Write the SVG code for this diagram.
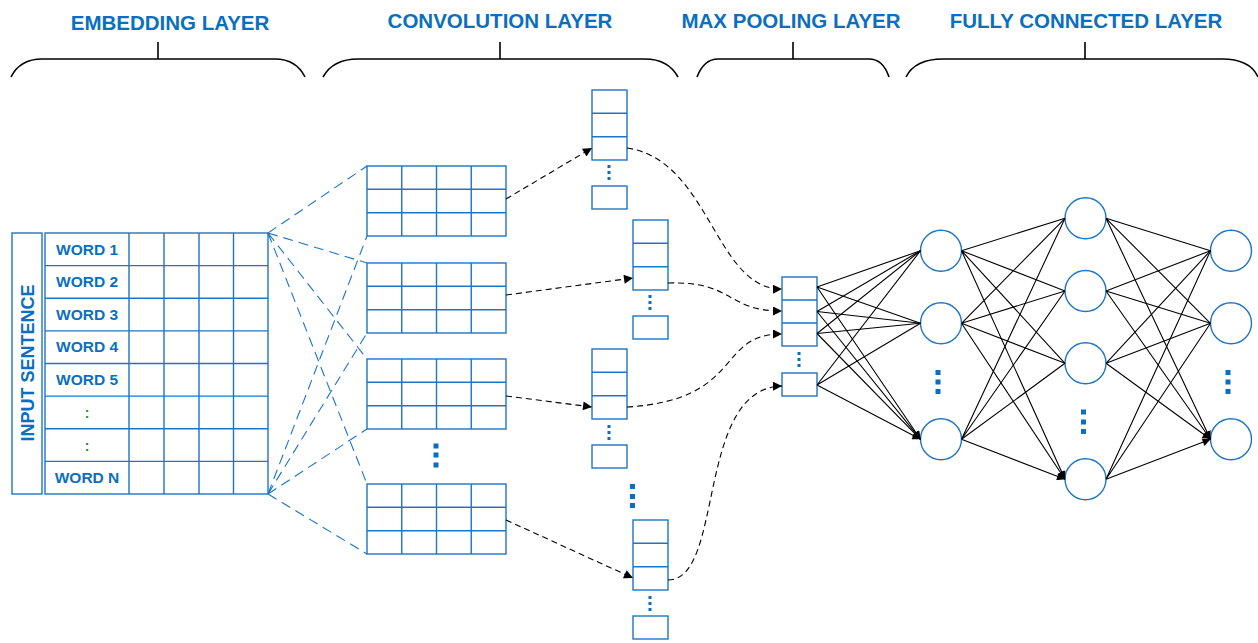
<svg xmlns="http://www.w3.org/2000/svg" width="1258" height="643" viewBox="0 0 1258 643">
<style>
.hdr{font-family:"Liberation Sans",Arial,sans-serif;font-weight:bold;font-size:20.5px;fill:#0A6FC0;text-anchor:middle}
.brace{fill:none;stroke:#000;stroke-width:1.6}
.cell{fill:#fff;stroke:#1C75C6;stroke-width:1.4}
.gl{fill:none;stroke:#1C75C6;stroke-width:1.4}
.word{font-family:"Liberation Sans",Arial,sans-serif;font-weight:bold;font-size:15.5px;fill:#0A6FC0;text-anchor:middle}
.colon{font-family:"Liberation Sans",Arial,sans-serif;font-weight:bold;font-size:14px;fill:#2E8B2E;text-anchor:middle}
.bdash{fill:none;stroke:#1C75C6;stroke-width:1.1;stroke-dasharray:10 6}
.kdash{fill:none;stroke:#000;stroke-width:1.1;stroke-dasharray:6 4}
.fc{fill:none;stroke:#000;stroke-width:1.1}
.node{fill:#fff;stroke:#1C75C6;stroke-width:1.4}
.dot{fill:#0A6FC0}
</style>
<defs>
<marker id="ahBig" viewBox="0 0 10 10" refX="10" refY="5" markerUnits="userSpaceOnUse" markerWidth="11" markerHeight="9" orient="auto">
<path d="M0,0 L10,5 L0,10 z" fill="#000"/>
</marker>
<marker id="ahSm" viewBox="0 0 10 10" refX="10" refY="5" markerUnits="userSpaceOnUse" markerWidth="10" markerHeight="8" orient="auto">
<path d="M0,0 L10,5 L0,10 z" fill="#000"/>
</marker>
</defs>
<rect width="1258" height="643" fill="#fff"/>

<!-- headers -->
<g id="headers">
<text class="hdr" x="170" y="30">EMBEDDING LAYER</text>
<text class="hdr" x="500" y="28">CONVOLUTION LAYER</text>
<text class="hdr" x="791" y="28">MAX POOLING LAYER</text>
<text class="hdr" x="1086" y="28">FULLY CONNECTED LAYER</text>
<path class="brace" d="M11,77 Q20,59 42,59 L275,59 Q296,59 305,77 M158,42 V59"/>
<path class="brace" d="M323,77 Q333,59 358,59 L645,59 Q668,59 678,77 M500,42 V59"/>
<path class="brace" d="M697,77 Q704,59 718,59 L869,59 Q883,59 889,77 M793,42 V59"/>
<path class="brace" d="M906,77 Q915,59 943,59 L1222,59 Q1250,59 1258,77 M1085,42 V59"/>
</g>

<!-- embedding -->
<g id="input-sentence">
<rect class="cell" x="12" y="233" width="30" height="261"/>
<text class="word" transform="translate(33.5,363) rotate(-90)" style="font-size:18px">INPUT SENTENCE</text>
</g>
<g id="embedding-matrix">
<rect class="cell" x="45" y="233" width="223" height="261"/>
<path class="gl" d="M45,265.6H268 M45,298.3H268 M45,330.9H268 M45,363.5H268 M45,396.1H268 M45,428.8H268 M45,461.4H268 M129,233V494 M164,233V494 M199,233V494 M233.5,233V494"/>
<text class="word" x="87" y="254.5">WORD 1</text>
<text class="word" x="87" y="287.1">WORD 2</text>
<text class="word" x="87" y="319.8">WORD 3</text>
<text class="word" x="87" y="352.4">WORD 4</text>
<text class="word" x="87" y="385">WORD 5</text>
<text class="colon" x="87" y="418">:</text>
<text class="colon" x="87" y="450.5">:</text>
<text class="word" x="87" y="483">WORD N</text>
</g>

<!-- conv grids -->
<g id="conv-1">
<rect class="cell" x="367" y="166" width="139" height="70"/>
<path class="gl" d="M367,189.3H506 M367,212.7H506 M401.75,166V236 M436.5,166V236 M471.25,166V236"/>
</g>
<g id="conv-2">
<rect class="cell" x="367" y="263" width="139" height="70"/>
<path class="gl" d="M367,286.3H506 M367,309.7H506 M401.75,263V333 M436.5,263V333 M471.25,263V333"/>
</g>
<g id="conv-3">
<rect class="cell" x="367" y="359" width="139" height="70"/>
<path class="gl" d="M367,382.3H506 M367,405.7H506 M401.75,359V429 M436.5,359V429 M471.25,359V429"/>
</g>
<g id="conv-dots">
<rect class="dot" x="433.5" y="443.5" width="5" height="5"/>
<rect class="dot" x="433.5" y="452.5" width="5" height="5"/>
<rect class="dot" x="433.5" y="462.5" width="5" height="5"/>
</g>
<g id="conv-4">
<rect class="cell" x="367" y="484" width="139" height="70"/>
<path class="gl" d="M367,507.3H506 M367,530.7H506 M401.75,484V554 M436.5,484V554 M471.25,484V554"/>
</g>

<!-- feature columns -->
<g id="feat-1">
<rect class="cell" x="592" y="90" width="35" height="70"/>
<path class="gl" d="M592,113.3H627 M592,136.7H627"/>
<rect class="dot" x="607.5" y="165" width="3" height="3"/>
<rect class="dot" x="607.5" y="171" width="3" height="3"/>
<rect class="dot" x="607.5" y="177" width="3" height="3"/>
<rect class="cell" x="592" y="186" width="35" height="23"/>
</g>
<g id="feat-2">
<rect class="cell" x="633" y="220" width="35" height="70"/>
<path class="gl" d="M633,243.3H668 M633,266.7H668"/>
<rect class="dot" x="648.5" y="295" width="3" height="3"/>
<rect class="dot" x="648.5" y="301" width="3" height="3"/>
<rect class="dot" x="648.5" y="307" width="3" height="3"/>
<rect class="cell" x="633" y="316" width="35" height="23"/>
</g>
<g id="feat-3">
<rect class="cell" x="592" y="349" width="35" height="70"/>
<path class="gl" d="M592,372.3H627 M592,395.7H627"/>
<rect class="dot" x="607.5" y="425" width="3" height="3"/>
<rect class="dot" x="607.5" y="431" width="3" height="3"/>
<rect class="dot" x="607.5" y="437" width="3" height="3"/>
<rect class="cell" x="592" y="445" width="35" height="23"/>
</g>
<g id="feat-dots">
<rect class="dot" x="630" y="484" width="5" height="5"/>
<rect class="dot" x="630" y="494" width="5" height="5"/>
<rect class="dot" x="630" y="503" width="5" height="5"/>
</g>
<g id="feat-4">
<rect class="cell" x="633" y="520" width="35" height="70"/>
<path class="gl" d="M633,543.3H668 M633,566.7H668"/>
<rect class="dot" x="648.5" y="596" width="3" height="3"/>
<rect class="dot" x="648.5" y="602" width="3" height="3"/>
<rect class="dot" x="648.5" y="608" width="3" height="3"/>
<rect class="cell" x="633" y="616" width="35" height="23"/>
</g>

<!-- max pool -->
<g id="maxpool">
<rect class="cell" x="782" y="277" width="35" height="69"/>
<path class="gl" d="M782,300H817 M782,323H817"/>
<rect class="dot" x="797.5" y="352" width="3" height="3"/>
<rect class="dot" x="797.5" y="358" width="3" height="3"/>
<rect class="dot" x="797.5" y="364" width="3" height="3"/>
<rect class="cell" x="782" y="373" width="35" height="23"/>
</g>

<!-- FC nodes -->
<g id="fc-1">
<circle class="node" cx="941" cy="250.7" r="20.5"/>
<circle class="node" cx="941" cy="323.3" r="20.5"/>
<circle class="node" cx="941" cy="439.3" r="20.5"/>
<rect class="dot" x="935.5" y="370" width="5" height="5"/>
<rect class="dot" x="935.5" y="379.5" width="5" height="5"/>
<rect class="dot" x="935.5" y="389" width="5" height="5"/>
</g>
<g id="fc-2">
<circle class="node" cx="1085.5" cy="218.3" r="20.5"/>
<circle class="node" cx="1085.5" cy="291" r="20.5"/>
<circle class="node" cx="1085.5" cy="363.3" r="20.5"/>
<circle class="node" cx="1085.5" cy="479.3" r="20.5"/>
<rect class="dot" x="1081" y="409.5" width="5" height="5"/>
<rect class="dot" x="1081" y="419.5" width="5" height="5"/>
<rect class="dot" x="1081" y="429" width="5" height="5"/>
</g>
<g id="fc-3">
<circle class="node" cx="1231" cy="250.7" r="20.5"/>
<circle class="node" cx="1231" cy="323.3" r="20.5"/>
<circle class="node" cx="1231" cy="439.3" r="20.5"/>
<rect class="dot" x="1225.5" y="370" width="5" height="5"/>
<rect class="dot" x="1225.5" y="379.5" width="5" height="5"/>
<rect class="dot" x="1225.5" y="389" width="5" height="5"/>
</g>

<!-- connectors -->
<g id="connectors">
<g id="embed-to-conv">
<path class="bdash" d="M268,233 L367,166 M268,233 L367,263 M268,233 L367,359 M268,233 L367,484"/>
<path class="bdash" d="M268,494 L367,236 M268,494 L367,333 M268,494 L367,429 M268,494 L367,554"/>
</g>
<g id="conv-to-feat">
<path class="kdash" marker-end="url(#ahBig)" d="M506,199 L592,148"/>
<path class="kdash" marker-end="url(#ahBig)" d="M506,295 L633,278"/>
<path class="kdash" marker-end="url(#ahBig)" d="M506,396 L592,407"/>
<path class="kdash" marker-end="url(#ahBig)" d="M506,520 L633,578"/>
</g>
<g id="feat-to-pool">
<path class="kdash" marker-end="url(#ahBig)" d="M627,148 C710,160 715,290 782,289"/>
<path class="kdash" marker-end="url(#ahBig)" d="M668,283 C735,281 725,311 782,311"/>
<path class="kdash" marker-end="url(#ahBig)" d="M627,407 C745,400 715,334 782,334"/>
<path class="kdash" marker-end="url(#ahBig)" d="M668,580 C725,580 695,388 782,386"/>
</g>
<g id="pool-to-fc1">
<path class="fc" marker-end="url(#ahSm)" d="M817,287 L920.5,250.7 M817,287 L920.5,323.3 M817,287 L920.5,439.3"/>
<path class="fc" marker-end="url(#ahSm)" d="M817,311.5 L920.5,250.7 M817,311.5 L920.5,323.3 M817,311.5 L920.5,439.3"/>
<path class="fc" marker-end="url(#ahSm)" d="M817,333.5 L920.5,250.7 M817,333.5 L920.5,323.3 M817,333.5 L920.5,439.3"/>
<path class="fc" marker-end="url(#ahSm)" d="M817,385 L920.5,250.7 M817,385 L920.5,323.3 M817,385 L920.5,439.3"/>
</g>
<g id="fc1-to-fc2">
<path class="fc" marker-end="url(#ahSm)" d="M961.5,250.7 L1065,218.3 M961.5,250.7 L1065,291 M961.5,250.7 L1065,363.3 M961.5,250.7 L1065,479.3"/>
<path class="fc" marker-end="url(#ahSm)" d="M961.5,323.3 L1065,218.3 M961.5,323.3 L1065,291 M961.5,323.3 L1065,363.3 M961.5,323.3 L1065,479.3"/>
<path class="fc" marker-end="url(#ahSm)" d="M961.5,439.3 L1065,218.3 M961.5,439.3 L1065,291 M961.5,439.3 L1065,363.3 M961.5,439.3 L1065,479.3"/>
</g>
<g id="fc2-to-fc3">
<path class="fc" marker-end="url(#ahSm)" d="M1106,218.3 L1210.5,250.7 M1106,218.3 L1210.5,323.3 M1106,218.3 L1210.5,439.3"/>
<path class="fc" marker-end="url(#ahSm)" d="M1106,291 L1210.5,250.7 M1106,291 L1210.5,323.3 M1106,291 L1210.5,439.3"/>
<path class="fc" marker-end="url(#ahSm)" d="M1106,363.3 L1210.5,250.7 M1106,363.3 L1210.5,323.3 M1106,363.3 L1210.5,439.3"/>
<path class="fc" marker-end="url(#ahSm)" d="M1106,479.3 L1210.5,250.7 M1106,479.3 L1210.5,323.3 M1106,479.3 L1210.5,439.3"/>
</g>
</g>
</svg>
